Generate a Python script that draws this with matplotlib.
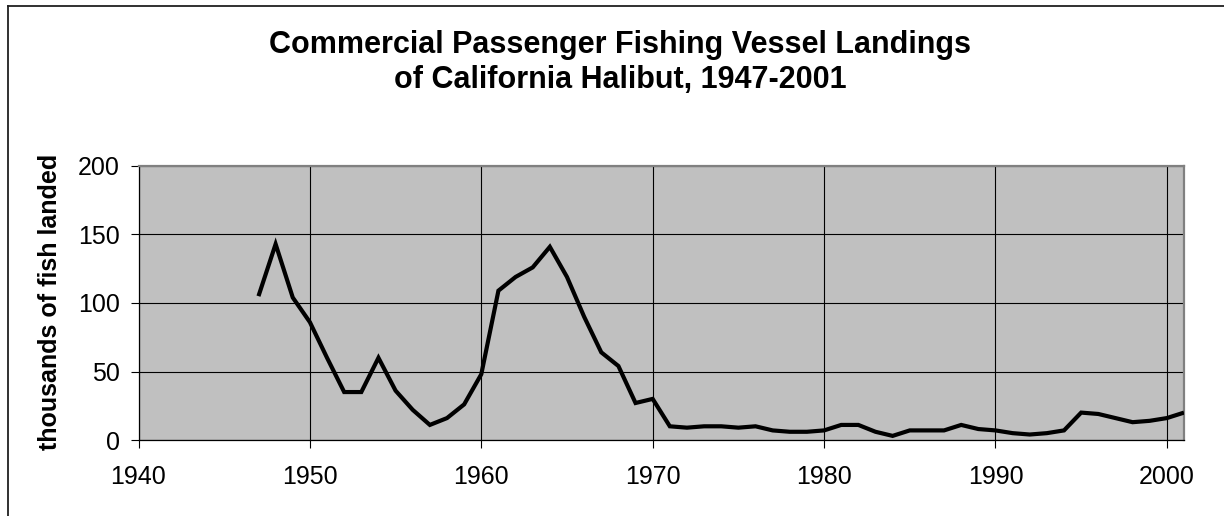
#!/usr/bin/env python3
"""
CPFV landings of California halibut, 1947-2001 (thousands of fish)
"""
import matplotlib
matplotlib.use("Agg")
import matplotlib.pyplot as plt
from matplotlib.lines import Line2D

# data
years = list(range(1947, 2002))
landings = [105, 143, 104, 86, 60, 35, 35, 60, 36, 22,
            11, 16, 26, 48, 109, 119, 126, 141, 119, 90,
            64, 54, 27, 30, 10, 9, 10, 10, 9, 10,
            7, 6, 6, 7, 11, 11, 6, 3, 7, 7,
            7, 11, 8, 7, 5, 4, 5, 7, 20, 19,
            16, 13, 14, 16, 20]

x_ticks = [1940, 1950, 1960, 1970, 1980, 1990, 2000]
y_ticks = [0, 50, 100, 150, 200]
title_lines = ["Commercial Passenger Fishing Vessel Landings",
               "of California Halibut, 1947-2001"]
y_label = "thousands of fish landed"

W, H = 1224, 516
plt.rcParams['font.family'] = ['Liberation Sans', 'DejaVu Sans']

fig = plt.figure(figsize=(W / 100, H / 100), dpi=100)
fig.patch.set_facecolor('white')

# plot area in pixels: x 138.5..1184, y 166..440
ax = fig.add_axes([138.5 / W, 1 - 440 / H, (1184 - 138.5) / W, (440 - 166) / H])
ax.set_facecolor('#C0C0C0')

ax.plot(years, landings, color='black', linewidth=3.0,
        solid_joinstyle='miter', solid_capstyle='butt', zorder=3)

ax.set_xlim(1940, 2001)
ax.set_ylim(0, 200)
ax.set_xticks(x_ticks)
ax.set_yticks(y_ticks)
ax.grid(True, color='black', linewidth=0.8, zorder=1)
ax.set_axisbelow(True)

ax.tick_params(axis='both', direction='out', length=5.6, width=0.8,
               color='black', labelsize=18)
ax.tick_params(axis='x', pad=12.5)
ax.tick_params(axis='y', pad=8)

for side in ['top', 'right']:
    ax.spines[side].set_color('#808080')
    ax.spines[side].set_linewidth(1.6)
for side in ['left', 'bottom']:
    ax.spines[side].set_color('black')
    ax.spines[side].set_linewidth(0.9)

# title, two lines
fig.text(620 / W, 1 - 53 / H, title_lines[0], ha='center', va='baseline',
         fontsize=22, fontweight='bold')
fig.text(620 / W, 1 - 88 / H, title_lines[1], ha='center', va='baseline',
         fontsize=22, fontweight='bold')

# y label, baseline at x ~ 57 px
fig.text(57.5 / W, 1 - 302 / H, y_label, rotation=90, rotation_mode='anchor',
         ha='center', va='baseline', fontsize=18, fontweight='bold')

# chart area border (cut off at right and bottom)
x0 = 7.5 / W
y0 = 1 - 5.5 / H
fig.add_artist(Line2D([x0, x0], [0, y0], transform=fig.transFigure,
                      color='#202020', linewidth=1.3))
fig.add_artist(Line2D([x0, 1], [y0, y0], transform=fig.transFigure,
                      color='#202020', linewidth=1.3))

fig.savefig('out.png', dpi=100)
